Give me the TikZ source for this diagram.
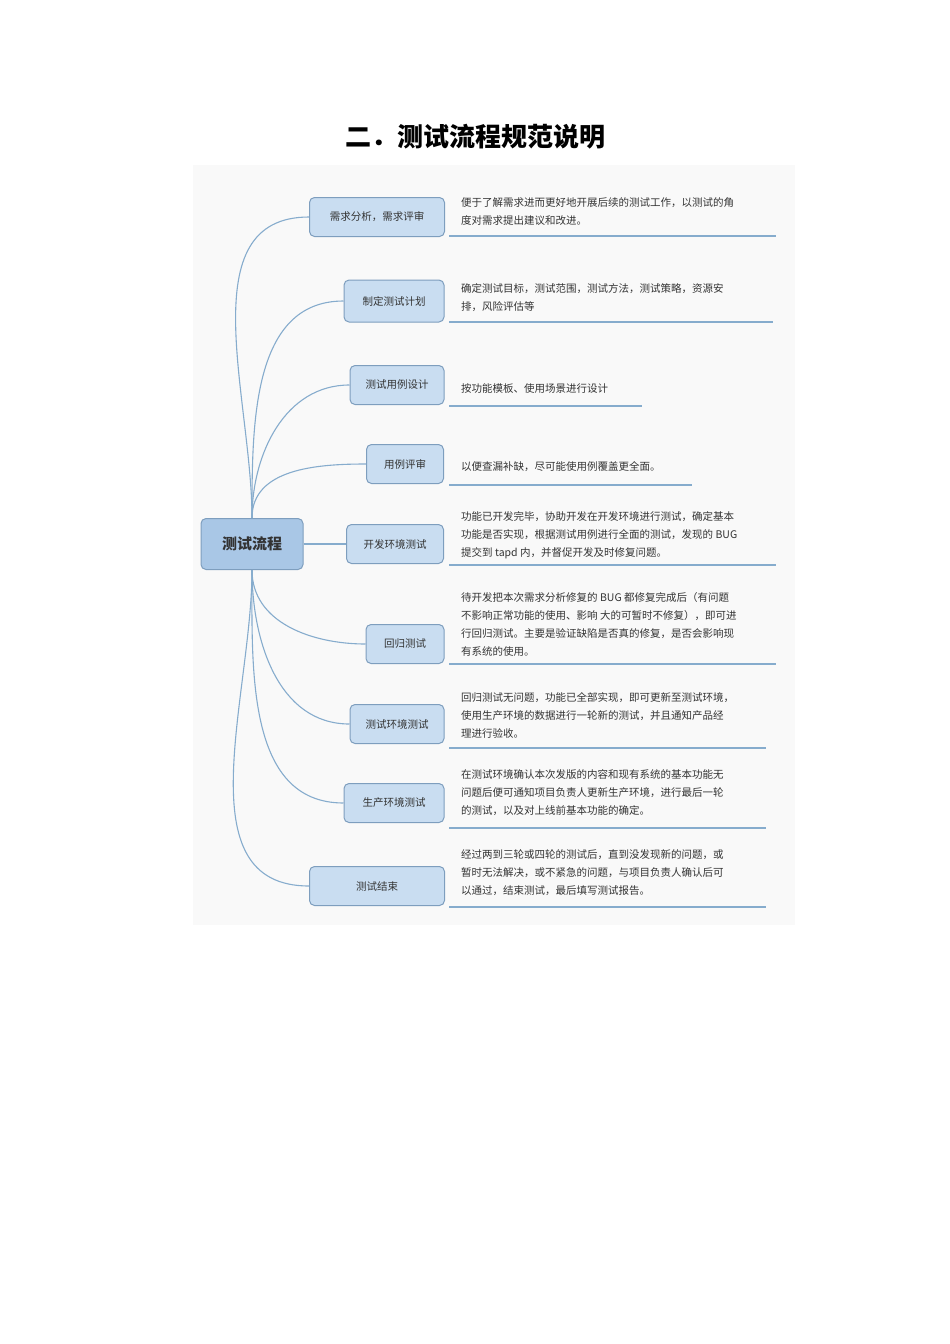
\documentclass[tikz,border=0pt]{standalone}
\usepackage{fontspec}
\setmainfont{Liberation Serif}
\newfontfamily\cjk{Noto Sans CJK SC}
\begin{document}
\begin{tikzpicture}[x=1pt,y=-1pt,
  box/.style={draw=boxline,fill=boxfill,rounded corners=5pt,line width=1pt,minimum height=39pt,inner sep=0pt,font=\cjk\fontsize{10.5}{12}\selectfont,text=black!80},
  desc/.style={anchor=west,align=left,inner sep=0pt,font=\cjk\fontsize{10.5}{18}\selectfont,text=black!80},
  ul/.style={draw=conn,line width=1.2pt},
  con/.style={draw=conn,line width=1.1pt}]
\definecolor{boxfill}{HTML}{C9DDF1}
\definecolor{boxline}{HTML}{7E9EBE}
\definecolor{cfill}{HTML}{A9C7E6}
\definecolor{conn}{HTML}{86ACCD}
\useasboundingbox (0,0) rectangle (950,1344);
\fill[gray!5] (193,165) rectangle (795,925);
\node[font=\cjk\bfseries\fontsize{26}{30}\selectfont] (title) at (475,137) {二．测试流程规范说明};
\node[box,fill=cfill,minimum width=102pt,minimum height=51pt,font=\cjk\bfseries\fontsize{15}{18}\selectfont] (c) at (252,544) {测试流程};
\node[box,minimum width=135pt] (n1) at (377,217) {需求分析，需求评审};
\node[box,minimum width=100pt,minimum height=42pt] (n2) at (394,301) {制定测试计划};
\node[box,minimum width=94pt] (n3) at (397,385) {测试用例设计};
\node[box,minimum width=77pt] (n4) at (405,464) {用例评审};
\node[box,minimum width=97pt] (n5) at (395,544) {开发环境测试};
\node[box,minimum width=78pt] (n6) at (405,644) {回归测试};
\node[box,minimum width=94pt] (n7) at (397,724) {测试环境测试};
\node[box,minimum width=100pt] (n8) at (394,803) {生产环境测试};
\node[box,minimum width=135pt] (n9) at (377,886) {测试结束};
\foreach \n in {n1,n2,n3,n4}{\draw[con] (c.north) to[out=90,in=180] (\n.west);}
\draw[con] (c.east) -- (n5.west);
\foreach \n in {n6,n7,n8,n9}{\draw[con] (c.south) to[out=-90,in=180] (\n.west);}
% descriptions
\node[desc] (d1) at (461,212) {便于了解需求进而更好地开展后续的测试工作，以测试的角\\度对需求提出建议和改进。};
\node[desc] (d2) at (461,298) {确定测试目标，测试范围，测试方法，测试策略，资源安\\排，风险评估等};
\node[desc] (d3) at (461,389) {按功能模板、使用场景进行设计};
\node[desc] (d4) at (461,467) {以便查漏补缺，尽可能使用例覆盖更全面。};
\node[desc] (d5) at (461,535) {功能已开发完毕，协助开发在开发环境进行测试，确定基本\\功能是否实现，根据测试用例进行全面的测试，发现的 BUG\\提交到 tapd 内，并督促开发及时修复问题。};
\node[desc] (d6) at (461,624) {待开发把本次需求分析修复的 BUG 都修复完成后（有问题\\不影响正常功能的使用、影响 大的可暂时不修复），即可进\\行回归测试。主要是验证缺陷是否真的修复，是否会影响现\\有系统的使用。};
\node[desc] (d7) at (461,715) {回归测试无问题，功能已全部实现，即可更新至测试环境，\\使用生产环境的数据进行一轮新的测试，并且通知产品经\\理进行验收。};
\node[desc] (d8) at (461,793) {在测试环境确认本次发版的内容和现有系统的基本功能无\\问题后便可通知项目负责人更新生产环境，进行最后一轮\\的测试，以及对上线前基本功能的确定。};
\node[desc] (d9) at (461,873) {经过两到三轮或四轮的测试后，直到没发现新的问题，或\\暂时无法解决，或不紧急的问题，与项目负责人确认后可\\以通过，结束测试，最后填写测试报告。};
\draw[ul] (449,236) -- (776,236);
\draw[ul] (449,322) -- (773,322);
\draw[ul] (449,406) -- (642,406);
\draw[ul] (449,485) -- (692,485);
\draw[ul] (449,565) -- (776,565);
\draw[ul] (449,664) -- (776,664);
\draw[ul] (449,748) -- (766,748);
\draw[ul] (449,828) -- (766,828);
\draw[ul] (449,907) -- (766,907);
\end{tikzpicture}
\end{document}
